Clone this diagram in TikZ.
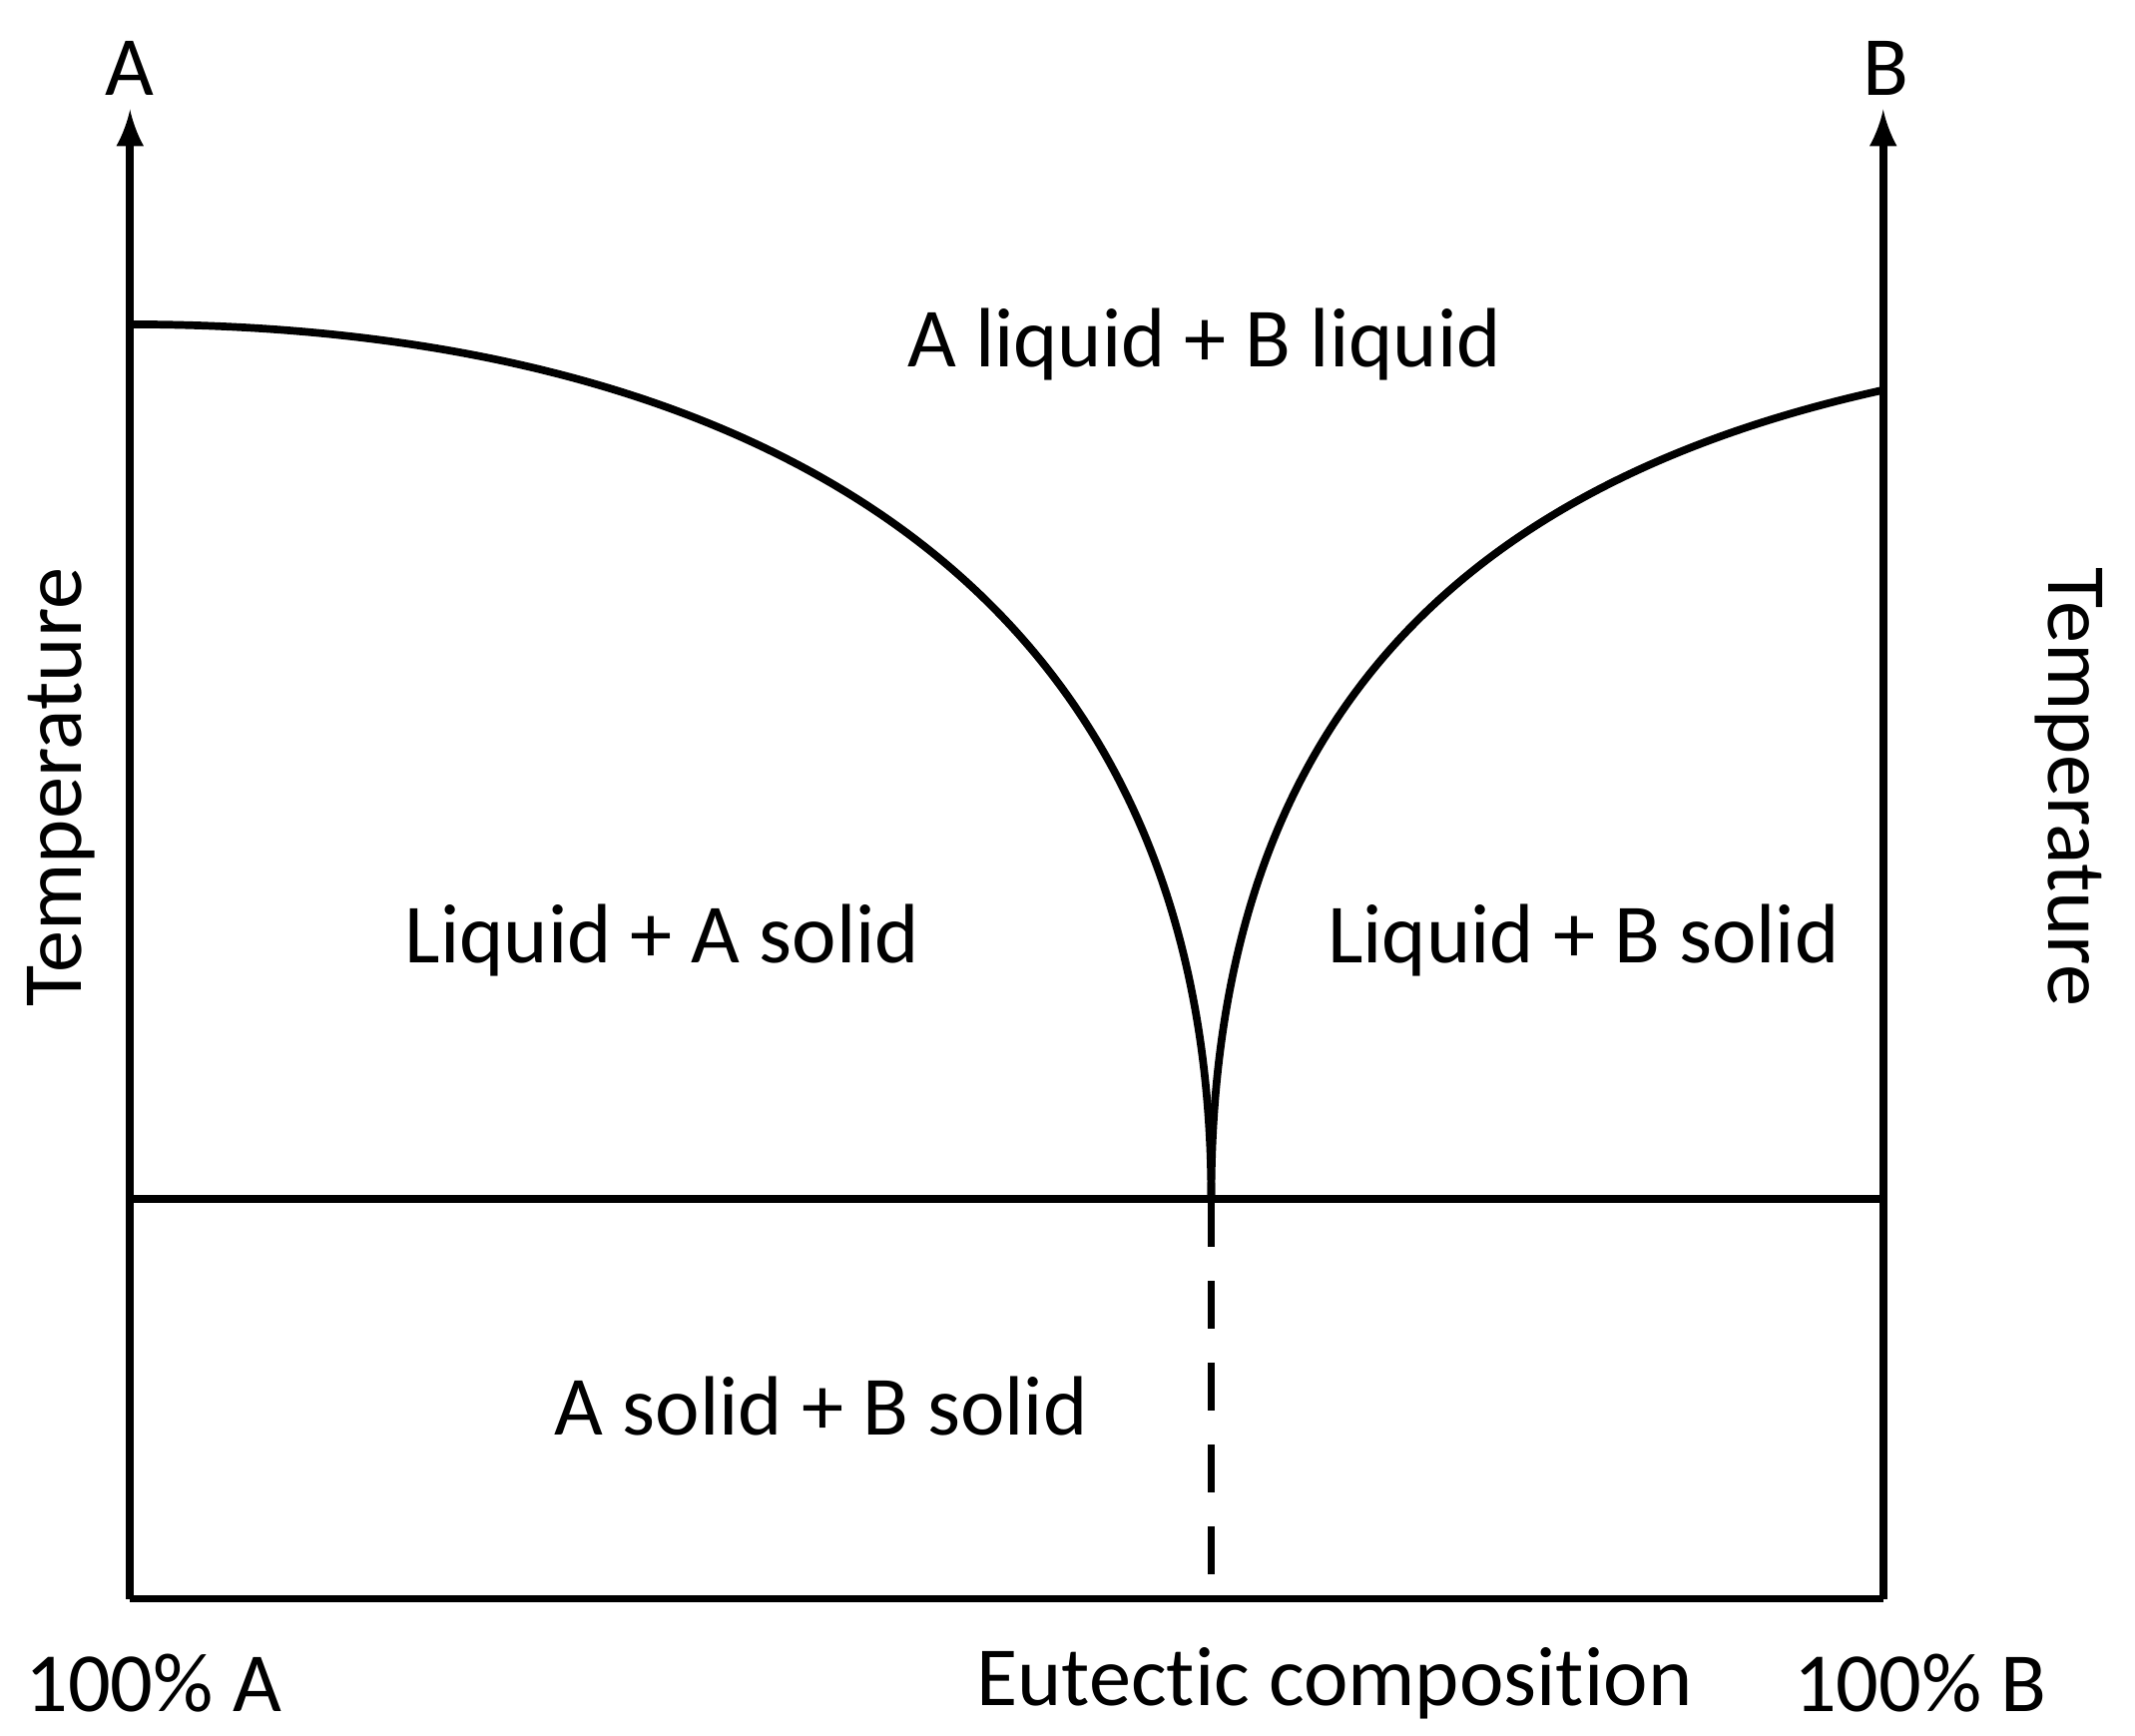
\documentclass[tikz,border=0pt]{standalone}
\usepackage{fontspec}
\setmainfont[Ligatures={NoCommon}]{Carlito}
\begin{document}
\begin{tikzpicture}
        \tikzset{lab/.style={font=\fontsize{17.5}{20}\selectfont, inner sep=0pt},
                 curve/.style={line width=1.6pt}}
        \useasboundingbox (0,0) rectangle (15.6,12.68);

        \coordinate (origin) at (0.95,1.00);
        \coordinate (topA) at (0.95,11.88);
        \coordinate (endB) at (13.76,1.00);
        \coordinate (topB) at (13.76,11.88);
        \coordinate (eutL) at (0.95,3.92);
        \coordinate (eutR) at (13.76,3.92);
        \coordinate (eut) at (8.85,3.92);
        \coordinate (eutBot) at (8.85,1.00);
        \coordinate (meltA) at (0.95,10.31);
        \coordinate (meltB) at (13.76,9.83);

        \draw[curve, -latex] (origin) -- (topA);
        \draw[curve, -latex] (endB) -- (topB);
        \draw[curve] (origin) -- (endB);
        \draw[curve] (eutL) -- (eutR);
        \draw[curve, dash pattern=on 10pt off 7pt] (eut) -- (eutBot);

        \draw[curve] (meltA) .. controls (5.1,10.31) and (8.85,8.7) .. (eut);
        \draw[curve] (eut) .. controls (8.85,7.6) and (10.9,9.2) .. (meltB);

        \node[lab] (labA) at (0.95,12.18) {A};
        \node[lab] (labB) at (13.78,12.18) {B};
        \node[lab, rotate=90] (tempL) at (0.45,6.93) {Temperature};
        \node[lab, rotate=-90] (tempR) at (15.12,6.93) {Temperature};
        \node[lab] (liqliq) at (8.80,10.16) {A liquid + B liquid};
        \node[lab] (liqA) at (4.84,5.81) {Liquid + A solid};
        \node[lab] (liqB) at (11.57,5.81) {Liquid + B solid};
        \node[lab] (solsol) at (6.00,2.41) {A solid + B solid};
        \node[lab] (pureA) at (1.12,0.38) {100\% A};
        \node[lab] (eutlab) at (9.75,0.38) {Eutectic composition};
        \node[lab] (pureB) at (14.03,0.38) {100\% B};
\end{tikzpicture}
\end{document}
